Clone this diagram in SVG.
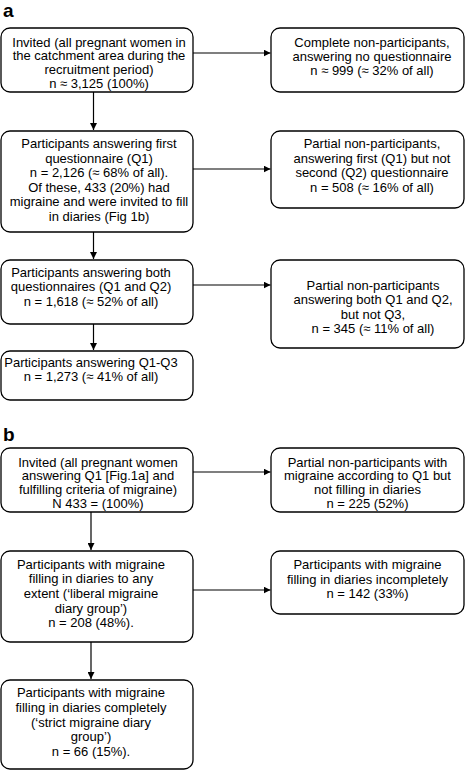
<svg xmlns="http://www.w3.org/2000/svg" width="466" height="770" viewBox="0 0 466 770">
<defs>
<marker id="ah" viewBox="0 0 10 10" refX="10" refY="5" markerWidth="7" markerHeight="7" markerUnits="userSpaceOnUse" orient="auto">
<path d="M0,0 L10,5 L0,10 Z" fill="#000"/>
</marker>
<style>
.box{fill:#fff;stroke:#000;stroke-width:1.3}
.t{font-family:"Liberation Sans",Arial,Helvetica,sans-serif;font-size:13px;fill:#000;text-anchor:middle}
.lbl{font-family:"Liberation Sans",Arial,Helvetica,sans-serif;font-size:19px;font-weight:bold;fill:#000}
.c{stroke:#000;stroke-width:1.2;fill:none;marker-end:url(#ah)}
</style>
</defs>
<rect width="466" height="770" fill="#fff"/>
<text class="lbl" x="3" y="17">a</text>
<text class="lbl" x="3" y="441">b</text>

<g id="connectors">
<line class="c" x1="93.5" y1="92" x2="93.5" y2="130"/>
<line class="c" x1="93.5" y1="232" x2="93.5" y2="259"/>
<line class="c" x1="93.5" y1="324" x2="93.5" y2="350"/>
<line class="c" x1="193" y1="53" x2="270.5" y2="53"/>
<line class="c" x1="193" y1="169" x2="270.5" y2="169"/>
<line class="c" x1="193" y1="285" x2="270.5" y2="285"/>
<line class="c" x1="91" y1="512" x2="91" y2="550"/>
<line class="c" x1="91" y1="642" x2="91" y2="679"/>
<line class="c" x1="193" y1="472" x2="270.5" y2="472"/>
<line class="c" x1="193" y1="590" x2="270.5" y2="590"/>
</g>

<g id="a1">
<rect class="box" x="1" y="28" width="192" height="64" rx="9"/>
<text class="t" x="99"><tspan x="99" y="46.5">Invited (all pregnant women in</tspan><tspan x="99" y="60.2">the catchment area during the</tspan><tspan x="99" y="73.9">recruitment period)</tspan><tspan x="99" y="87.6">n ≈ 3,125 (100%)</tspan></text>
</g>
<g id="a2">
<rect class="box" x="1" y="131" width="192" height="101" rx="9"/>
<text class="t"><tspan x="99" y="148">Participants answering first</tspan><tspan x="99" y="162.5">questionnaire (Q1)</tspan><tspan x="99" y="177">n = 2,126 (≈ 68% of all).</tspan><tspan x="99" y="191.5">Of these, 433 (20%) had</tspan><tspan x="99" y="206">migraine and were invited to fill</tspan><tspan x="99" y="220.5">in diaries (Fig 1b)</tspan></text>
</g>
<g id="a3">
<rect class="box" x="1" y="260" width="192" height="64" rx="9"/>
<text class="t"><tspan x="91" y="276.5">Participants answering both</tspan><tspan x="91" y="291">questionnaires (Q1 and Q2)</tspan><tspan x="91" y="305.5">n = 1,618 (≈ 52% of all)</tspan></text>
</g>
<g id="a4">
<rect class="box" x="1" y="351" width="192" height="49" rx="9"/>
<text class="t"><tspan x="91" y="367">Participants answering Q1-Q3</tspan><tspan x="91" y="381">n = 1,273 (≈ 41% of all)</tspan></text>
</g>
<g id="ar1">
<rect class="box" x="271" y="28" width="193" height="64" rx="9"/>
<text class="t"><tspan x="372" y="46.5">Complete non-participants,</tspan><tspan x="372" y="60.5">answering no questionnaire</tspan><tspan x="372" y="74.5">n ≈ 999 (≈ 32% of all)</tspan></text>
</g>
<g id="ar2">
<rect class="box" x="271" y="131" width="193" height="77" rx="9"/>
<text class="t"><tspan x="372" y="148">Partial non-participants,</tspan><tspan x="372" y="162.5">answering first (Q1) but not</tspan><tspan x="372" y="177">second (Q2) questionnaire</tspan><tspan x="372" y="191.5">n = 508 (≈ 16% of all)</tspan></text>
</g>
<g id="ar3">
<rect class="box" x="271" y="260" width="193" height="88" rx="9"/>
<text class="t"><tspan x="373" y="289.5">Partial non-participants</tspan><tspan x="373" y="304">answering both Q1 and Q2,</tspan><tspan x="373" y="318.5">but not Q3,</tspan><tspan x="373" y="333">n = 345 (≈ 11% of all)</tspan></text>
</g>

<g id="b1">
<rect class="box" x="1" y="448" width="192" height="64" rx="9"/>
<text class="t"><tspan x="98" y="466.5">Invited (all pregnant women</tspan><tspan x="98" y="480.2">answering Q1 [Fig.1a] and</tspan><tspan x="98" y="493.9">fulfilling criteria of migraine)</tspan><tspan x="98" y="507.6">N 433 = (100%)</tspan></text>
</g>
<g id="b2">
<rect class="box" x="1" y="551" width="192" height="91" rx="9"/>
<text class="t"><tspan x="91" y="568.7">Participants with migraine</tspan><tspan x="91" y="583.3">filling in diaries to any</tspan><tspan x="91" y="598">extent (‘liberal migraine</tspan><tspan x="91" y="612.6">diary group’)</tspan><tspan x="91" y="627.3">n = 208 (48%).</tspan></text>
</g>
<g id="b3">
<rect class="box" x="1" y="680" width="192" height="89" rx="9"/>
<text class="t"><tspan x="91" y="697">Participants with migraine</tspan><tspan x="91" y="711.8">filling in diaries completely</tspan><tspan x="91" y="726.6">(‘strict migraine diary</tspan><tspan x="91" y="741.4">group’)</tspan><tspan x="91" y="756.2">n = 66 (15%).</tspan></text>
</g>
<g id="br1">
<rect class="box" x="271" y="448" width="193" height="64" rx="9"/>
<text class="t"><tspan x="367.5" y="466.5">Partial non-participants with</tspan><tspan x="367.5" y="480.2">migraine according to Q1 but</tspan><tspan x="367.5" y="493.9">not filling in diaries</tspan><tspan x="367.5" y="507.6">n = 225 (52%)</tspan></text>
</g>
<g id="br2">
<rect class="box" x="271" y="551" width="193" height="63" rx="9"/>
<text class="t"><tspan x="367.5" y="568.7">Participants with migraine</tspan><tspan x="367.5" y="583.5">filling in diaries incompletely</tspan><tspan x="367.5" y="598.3">n = 142 (33%)</tspan></text>
</g>
</svg>
